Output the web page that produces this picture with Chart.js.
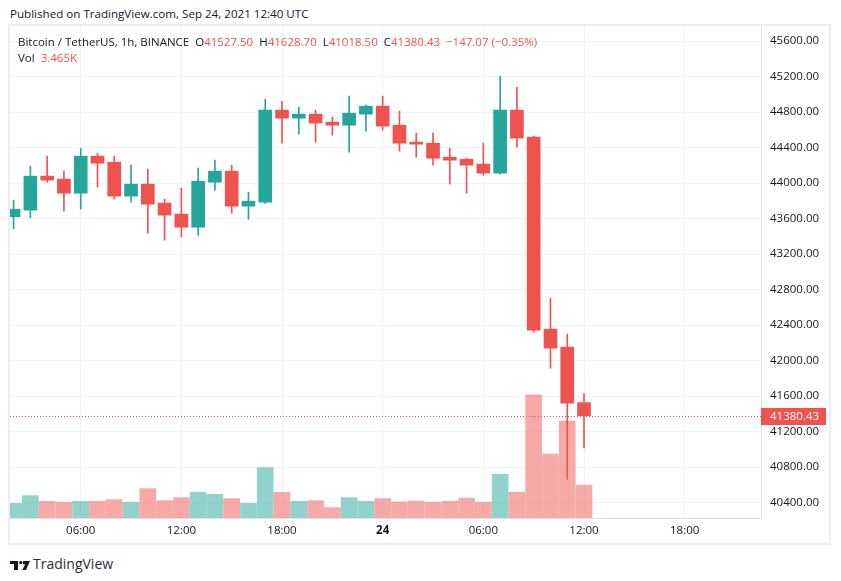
<!DOCTYPE html>
<html>
<head>
<meta charset="utf-8">
<script src="https://cdn.jsdelivr.net/npm/chart.js@4.4.0/dist/chart.umd.min.js"></script>
<style>
  body { margin: 0; background: #fff; width: 841px; height: 581px; overflow: hidden;
         font-family: "Open Sans", Roboto, sans-serif; color: #131722; }
  #published { position: absolute; left: 10px; top: 6px; font-size: 11.6px; }
  #box { position: absolute; left: 8px; top: 24px; width: 819px; height: 517px;
         border: 2px solid #eceef3; }
  #chart { position: absolute; left: 0; top: 0; }
  .legend { position: absolute; left: 8px; font-size: 11.5px; white-space: pre; }
  .red { color: #ef5350; }
  #footer { position: absolute; left: 10px; top: 554px; font-size: 14px; color: #2a2e39; }
  #footer svg { vertical-align: -1px; margin-right: 3px; }
</style>
</head>
<body>
<div id="published">Published on TradingView.com, Sep 24, 2021 12:40 UTC</div>
<div id="box">
  <canvas id="chart" width="819" height="517"></canvas>
  <div class="legend" style="top:8px">Bitcoin / TetherUS, 1h, BINANCE  O<span class="red">41527.50</span>  H<span class="red">41628.70</span>  L<span class="red">41018.50</span>  C<span class="red">41380.43</span>  <span class="red">−147.07 (−0.35%)</span></div>
  <div class="legend" style="top:24px">Vol  <span class="red">3.465K</span></div>
</div>
<div id="footer"><svg width="20" height="9" viewBox="0 0 20 9"><rect x="0" y="0" width="8" height="3" fill="#131722"/><rect x="4" y="0" width="4" height="9" fill="#131722"/><circle cx="10.8" cy="1.6" r="1.6" fill="#131722"/><polygon points="13,0 20,0 16,9 12.3,9 15.2,3.2 13,3.2" fill="#131722"/></svg>TradingView</div>
<script>
// hours since Sep 23 00:00 UTC
const hours   = [2, 3, 4, 5, 6, 7, 8, 9, 10, 11, 12, 13, 14, 15, 16, 17, 18, 19, 20, 21, 22, 23, 24, 25, 26, 27, 28, 29, 30, 31, 32, 33, 34, 35, 36];
const opens   = [43620, 43695, 44078, 44044, 43886, 44303, 44235, 43853, 43988, 43774, 43650, 43503, 44010, 44134, 43740, 43785, 44821, 44731, 44776, 44686, 44652, 44776, 44866, 44652, 44461, 44449, 44292, 44269, 44213, 44112, 44821, 44517, 42355, 42152, 41527.50];
const highs   = [43808, 44190, 44303, 44134, 44393, 44337, 44303, 44202, 44157, 43819, 43943, 44168, 44258, 44202, 43898, 44945, 44922, 44855, 44821, 44742, 44979, 44877, 44979, 44810, 44562, 44562, 44393, 44280, 44449, 45204, 45080, 44528, 42704, 42298, 41628.70];
const lows    = [43484, 43608, 44010, 43684, 43706, 43954, 43819, 43785, 43436, 43357, 43391, 43413, 43920, 43661, 43593, 43770, 44449, 44551, 44461, 44540, 44348, 44585, 44596, 44359, 44292, 44202, 43988, 43886, 44089, 44100, 44404, 42321, 41915, 40665, 41018.50];
const closes  = [43706, 44078, 44033, 43886, 44303, 44224, 43853, 43988, 43762, 43639, 43503, 44021, 44134, 43740, 43796, 44821, 44731, 44776, 44675, 44652, 44787, 44866, 44641, 44449, 44438, 44280, 44258, 44202, 44112, 44821, 44506, 42343, 42141, 41521, 41380.43];
const volumes = [1548, 2364, 1760, 1654, 1760, 1760, 1940, 1654, 3106, 1834, 2152, 2714, 2502, 2046, 1548, 5332, 2714, 1760, 1834, 1092, 2152, 1760, 2046, 1700, 1800, 1664, 1770, 2088, 1664, 4632, 2724, 13006, 6752, 10250, 3465];

const priceTicks = [40400, 40800, 41200, 41600, 42000, 42400, 42800, 43200, 43600, 44000, 44400, 44800, 45200, 45600];
const timeTicks  = [6, 12, 18, 24, 30, 36, 42];
const timeLabels = ['06:00', '12:00', '18:00', '24', '06:00', '12:00', '18:00'];

const UP = '#26a69a', DOWN = '#ef5350';
const FONT = '"Open Sans", Roboto, sans-serif';
const isUp = hours.map((h, i) => closes[i] >= opens[i]);
const lastClose = closes[closes.length - 1];

// dotted last-price line plus its label on the price axis
const priceLine = {
    id: 'priceLine',
    afterDatasetsDraw(chart) {
        const ctx = chart.ctx;
        const area = chart.chartArea;
        const y = Math.round(chart.scales.y.getPixelForValue(lastClose)) + 0.5;
        ctx.save();
        ctx.strokeStyle = DOWN;
        ctx.lineWidth = 1;
        ctx.setLineDash([1, 2]);
        ctx.beginPath();
        ctx.moveTo(area.left, y);
        ctx.lineTo(area.right, y);
        ctx.stroke();
        ctx.setLineDash([]);
        ctx.fillStyle = DOWN;
        ctx.fillRect(area.right, y - 8.5, 65, 17);
        ctx.fillStyle = '#fff';
        ctx.font = '11.5px ' + FONT;
        ctx.textBaseline = 'middle';
        ctx.fillText(lastClose.toFixed(2), area.right + 9, y);
        ctx.restore();
    }
};

new Chart(document.getElementById('chart'), {
    type: 'bar',
    data: {
        datasets: [{
            // bodies
            data: hours.map((h, i) => ({x: h, y: [opens[i], closes[i]]})),
            backgroundColor: isUp.map(u => u ? UP : DOWN),
            barThickness: 13,
            grouped: false,
            order: 1,
            yAxisID: 'y'
        }, {
            // wicks
            data: hours.map((h, i) => ({x: h, y: [lows[i], highs[i]]})),
            backgroundColor: isUp.map(u => u ? UP : DOWN),
            barThickness: 1,
            grouped: false,
            order: 2,
            yAxisID: 'y'
        }, {
            // volume
            data: hours.map((h, i) => ({x: h, y: volumes[i]})),
            backgroundColor: isUp.map(u => u ? 'rgba(38,166,154,0.5)' : 'rgba(239,83,80,0.5)'),
            barThickness: 16,
            grouped: false,
            order: 3,
            yAxisID: 'yv'
        }]
    },
    plugins: [priceLine],
    options: {
        responsive: false,
        animation: false,
        devicePixelRatio: 1,
        layout: {padding: 0, autoPadding: false},
        plugins: {
            legend: {display: false},
            tooltip: {enabled: false}
        },
        scales: {
            x: {
                type: 'linear',
                offset: false,
                min: 1.785,
                max: 46.55,
                afterBuildTicks: s => { s.ticks = timeTicks.map(v => ({value: v})); },
                afterFit: s => { s.height = 25; s.paddingLeft = 0; s.paddingRight = 0; },
                grid: {color: '#f0f3fa', drawTicks: false, offset: false},
                border: {color: '#e0e3eb'},
                ticks: {
                    color: '#131722',
                    padding: 6,
                    maxRotation: 0,
                    autoSkip: false,
                    font: c => ({family: FONT, size: 11.5,
                                 weight: c.tick && c.tick.value === 24 ? 'bold' : 'normal'}),
                    callback: (v, i) => timeLabels[i]
                }
            },
            y: {
                position: 'right',
                min: 40228,
                max: 45769,
                afterBuildTicks: s => { s.ticks = priceTicks.map(v => ({value: v})); },
                afterFit: s => { s.width = 68; s.paddingTop = 0; s.paddingBottom = 0; },
                grid: {color: '#f0f3fa', drawTicks: false},
                border: {color: '#e0e3eb'},
                ticks: {
                    color: '#131722',
                    padding: 9,
                    font: {family: FONT, size: 11.5},
                    callback: v => v.toFixed(2)
                }
            },
            yv: {
                display: false,
                min: 0,
                max: 52000
            }
        }
    }
});
</script>
</body>
</html>
